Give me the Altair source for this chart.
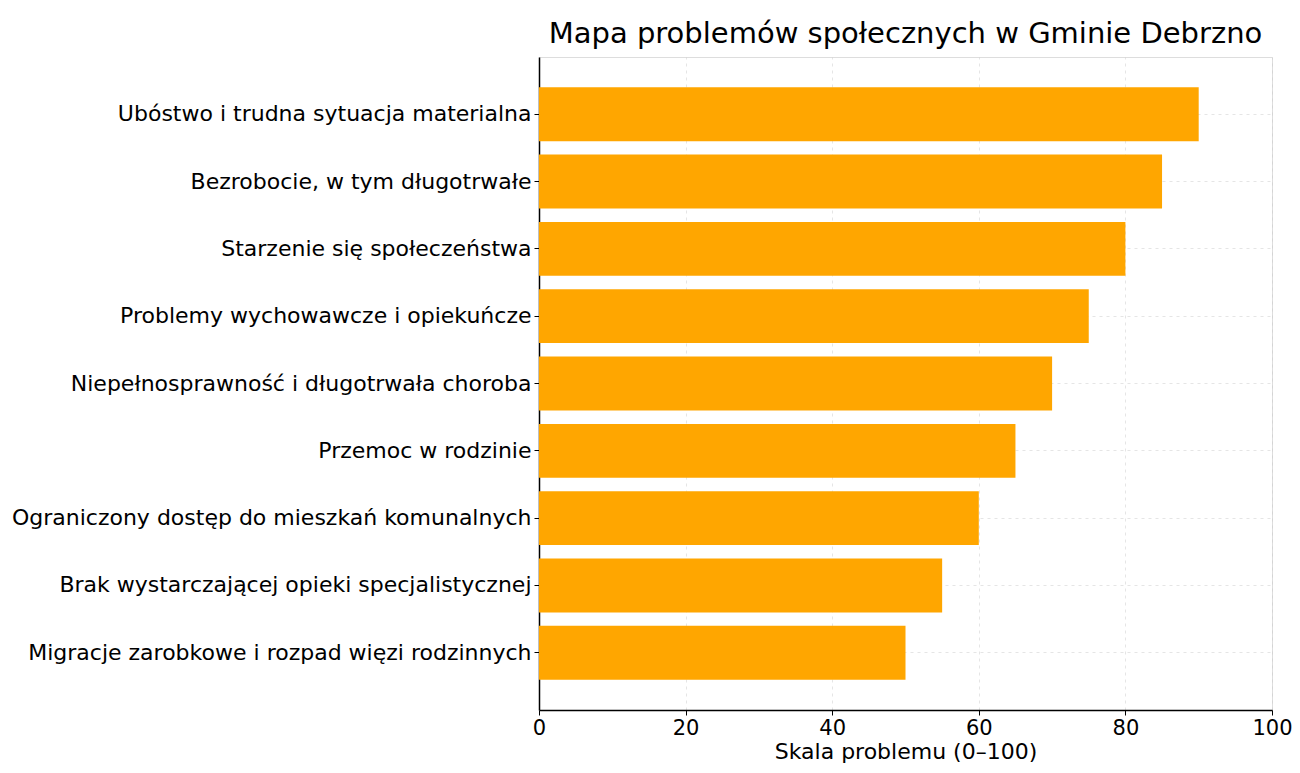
import altair as alt
import pandas as pd

categories = [
    "Ubóstwo i trudna sytuacja materialna",
    "Bezrobocie, w tym długotrwałe",
    "Starzenie się społeczeństwa",
    "Problemy wychowawcze i opiekuńcze",
    "Niepełnosprawność i długotrwała choroba",
    "Przemoc w rodzinie",
    "Ograniczony dostęp do mieszkań komunalnych",
    "Brak wystarczającej opieki specjalistycznej",
    "Migracje zarobkowe i rozpad więzi rodzinnych",
]
values = [90, 85, 80, 75, 70, 65, 60, 55, 50]
x_ticks = [0, 20, 40, 60, 80, 100]

df = pd.DataFrame({"problem": categories, "skala": values})

FONT = "DejaVu Sans"

chart = (
    alt.Chart(df)
    .mark_bar(color="#FFA600")
    .encode(
        x=alt.X(
            "skala:Q",
            scale=alt.Scale(domain=[0, 100], nice=False),
            axis=alt.Axis(
                title="Skala problemu (0–100)",
                values=x_ticks,
                format="d",
                grid=True,
                gridDash=[3, 4],
                gridColor="#cccccc",
                gridOpacity=0.5,
                domainColor="black",
                domainWidth=1.5,
                tickColor="black",
                tickSize=5,
                labelFontSize=21,
                labelColor="black",
                labelFont=FONT,
                labelFlush=False,
                titleFont=FONT,
                titleFontSize=22,
                titleFontWeight="normal",
                titleColor="black",
                titlePadding=3,
                labelPadding=2,
            ),
        ),
        y=alt.Y(
            "problem:N",
            sort=categories,
            scale=alt.Scale(paddingInner=0.2, paddingOuter=0.45),
            axis=alt.Axis(
                title=None,
                grid=True,
                gridDash=[3, 4],
                gridColor="#cccccc",
                gridOpacity=0.5,
                domainColor="black",
                domainWidth=1.5,
                tickColor="black",
                tickSize=5,
                labelFontSize=22,
                labelColor="black",
                labelFont=FONT,
                labelPadding=3,
                labelLimit=0,
            ),
        ),
    )
    .properties(
        width=733,
        height=653,
        autosize=alt.AutoSizeParams(type="none"),
        title=alt.TitleParams(
            "Mapa problemów społecznych w Gminie Debrzno",
            font=FONT,
            fontSize=29,
            fontWeight="normal",
            color="black",
            anchor="middle",
            offset=8,
        ),
        padding={"left": 531, "top": 49, "right": 20, "bottom": 54},
    )
    .configure_view(stroke=None)
    .configure(background="white")
)

chart.save("out.html", embed_options={"renderer": "svg", "actions": False})
